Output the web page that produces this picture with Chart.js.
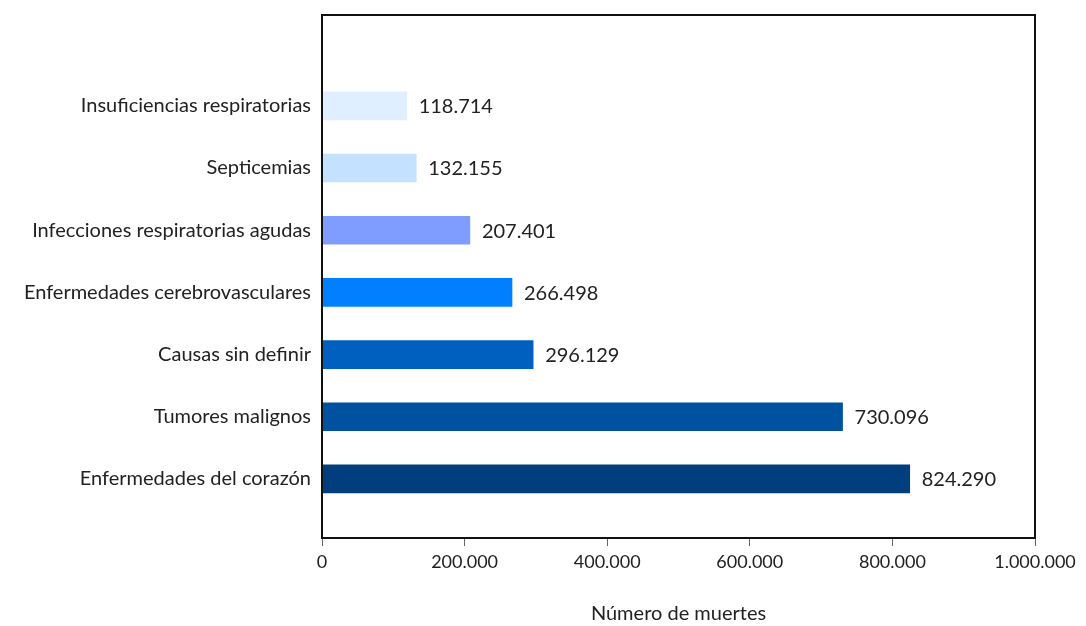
<!DOCTYPE html>
<html>
<head>
<meta charset="utf-8">
<script src="https://cdn.jsdelivr.net/npm/chart.js@4"></script>
<style>
  html, body { margin: 0; padding: 0; background: #fff; }
  #wrap { width: 1086px; height: 626px; }
</style>
</head>
<body>
<div id="wrap"><canvas id="graphMuertes"></canvas></div>
<script>
// causas de muerte, de arriba a abajo
const causas = [
  'Insuficiencias respiratorias',
  'Septicemias',
  'Infecciones respiratorias agudas',
  'Enfermedades cerebrovasculares',
  'Causas sin definir',
  'Tumores malignos',
  'Enfermedades del corazón'
];
const muertes = [118714, 132155, 207401, 266498, 296129, 730096, 824290];
const colores = ['#e0efff', '#c4e1ff', '#7f9dff', '#0080ff', '#0060c0', '#00519f', '#003e7e'];
const ticksX = [0, 200000, 400000, 600000, 800000, 1000000];

const fmt = (v) => v.toString().replace(/\B(?=(\d{3})+(?!\d))/g, '.');
const fuente = 'Lato, "DejaVu Sans", sans-serif';

// marco completo alrededor del area del grafico
const marco = {
  id: 'marco',
  afterDraw(chart) {
    const { ctx, chartArea: a } = chart;
    ctx.save();
    ctx.strokeStyle = '#111';
    ctx.lineWidth = 2;
    ctx.strokeRect(a.left, a.top, a.right - a.left, a.bottom - a.top);
    ctx.restore();
  }
};

// valor al final de cada barra
const etiquetas = {
  id: 'etiquetas',
  afterDatasetsDraw(chart) {
    const { ctx } = chart;
    const meta = chart.getDatasetMeta(0);
    ctx.save();
    ctx.font = '20px ' + fuente;
    ctx.fillStyle = '#222';
    ctx.textBaseline = 'middle';
    ctx.textAlign = 'left';
    meta.data.forEach((bar, i) => {
      ctx.fillText(fmt(muertes[i]), bar.x + 12, bar.y + 1);
    });
    ctx.restore();
  }
};

const ctx = document.getElementById('graphMuertes');
new Chart(ctx, {
  type: 'bar',
  data: {
    datasets: [{
      data: muertes.map((v, i) => ({ x: v, y: i })),
      backgroundColor: colores,
      borderWidth: 0,
      barThickness: 28
    }]
  },
  options: {
    indexAxis: 'y',
    responsive: true,
    maintainAspectRatio: false,
    animation: false,
    layout: { padding: { left: 0, right: 51, top: 12, bottom: 0 } },
    plugins: {
      legend: { display: false },
      tooltip: { enabled: false }
    },
    scales: {
      x: {
        type: 'linear',
        min: 0,
        max: 1000000,
        afterBuildTicks: (s) => { s.ticks = ticksX.map(v => ({ value: v })); },
        afterFit: (s) => { s.height = 88; },
        grid: { drawOnChartArea: false, drawTicks: true, tickLength: 8, color: '#666', lineWidth: 1 },
        border: { color: '#111', width: 2 },
        ticks: {
          padding: 5,
          color: '#222',
          font: { family: fuente, size: 18 },
          callback: (v) => fmt(v)
        },
        title: {
          display: true,
          text: 'Número de muertes',
          color: '#222',
          font: { family: fuente, size: 20 },
          padding: { top: 0, bottom: 0 }
        }
      },
      y: {
        type: 'linear',
        reverse: true,
        offset: false,
        min: -1.461,
        max: 6.95,
        afterBuildTicks: (s) => { s.ticks = causas.map((_, i) => ({ value: i })); },
        afterFit: (s) => { s.width = 322; },
        grid: { display: false },
        border: { color: '#111', width: 2 },
        ticks: {
          padding: 3,
          color: '#222',
          font: { family: fuente, size: 20 },
          callback: (v) => causas[v] ?? ''
        }
      }
    }
  },
  plugins: [marco, etiquetas]
});
</script>
</body>
</html>
